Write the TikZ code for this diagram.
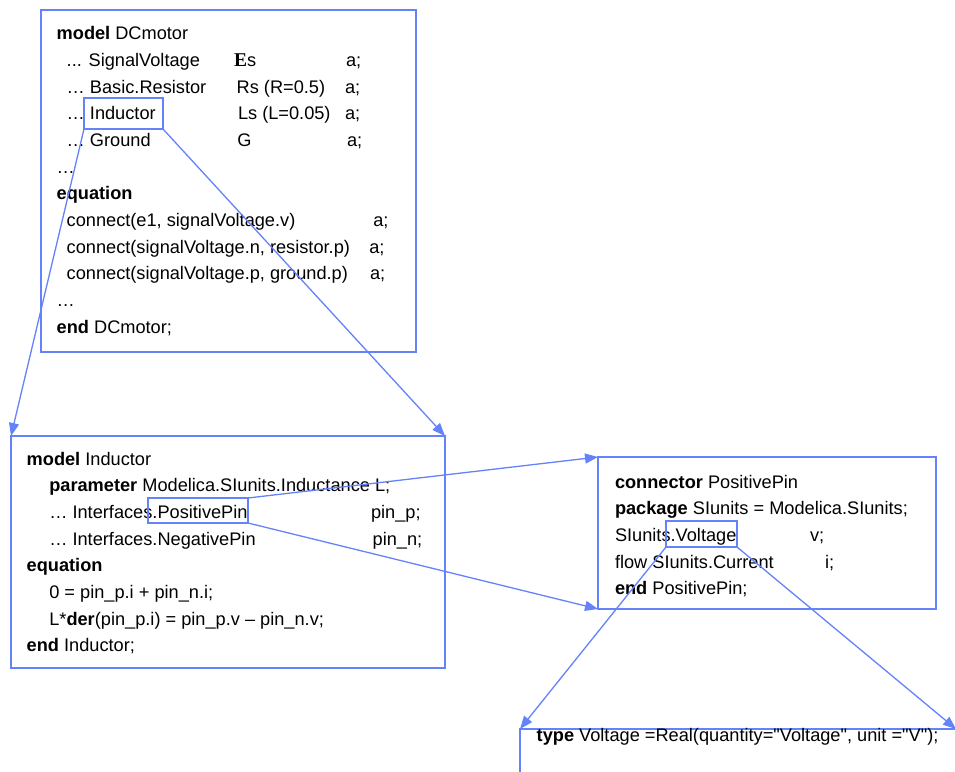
\documentclass[tikz,border=0pt]{standalone}
\usepackage{fontspec}
\setmainfont{Liberation Sans}[Ligatures=TeXOff]
\newfontfamily\serifE{Liberation Serif}
\usetikzlibrary{arrows.meta}
\definecolor{linkblue}{RGB}{100,130,250}

\begin{document}
\begin{tikzpicture}[x=1pt,y=-1pt,
  frame/.style={draw=linkblue, line width=1.5pt, inner sep=0pt, outer sep=0pt,
                anchor=north west},
  mark box/.style={draw=linkblue, line width=1.3pt, inner sep=0pt, outer sep=0pt,
                anchor=north west},
  code/.style={anchor=base west, inner sep=0pt, outer sep=0pt,
               font=\fontsize{18.2}{22}\selectfont},
  link/.style={draw=linkblue, line width=1.3pt,
               -{Triangle[length=13pt,width=10pt]}},
  ]
\useasboundingbox (0,0) rectangle (955,771);

% ---- frames -------------------------------------------------------
\node[frame, minimum width=375pt, minimum height=342pt] (dcmotor) at (41,10) {};
\node[frame, minimum width=434pt, minimum height=232pt] (inductor) at (11,436) {};
\node[frame, minimum width=338pt, minimum height=152pt] (pin) at (598,457) {};
\node[frame, minimum width=460pt, minimum height=80pt] (vtype) at (520,729) {};

% ---- model DCmotor ------------------------------------------------
\node[code] (d1)  at (56.7,39.3)  {\textbf{model} DCmotor};
\node[code] (d2)  at (66.7,66.3)  {... SignalVoltage};
\node[code] (d2b) at (234,66.3)   {{\serifE\bfseries\fontsize{19.5}{22}\selectfont E}s};
\node[code] (d2c) at (346,66.3)   {a;};
\node[code] (d3)  at (66.7,93)    {… Basic.Resistor};
\node[code] (d3b) at (236.7,93)   {Rs (R=0.5)};
\node[code] (d3c) at (345,93)     {a;};
\node[code] (d4)  at (66.7,119.7) {… Inductor};
\node[code] (d4b) at (238,119.7)  {Ls (L=0.05)};
\node[code] (d4c) at (345,119.7)  {a;};
\node[code] (d5)  at (66.7,146.3) {… Ground};
\node[code] (d5b) at (237.3,146.3){G};
\node[code] (d5c) at (347,146.3)  {a;};
\node[code] (d6)  at (56.7,173)   {…};
\node[code] (d7)  at (56.7,199.7) {\textbf{equation}};
\node[code] (d8)  at (66.7,226.3) {connect(e1, signalVoltage.v)};
\node[code] (d8c) at (373.3,226.3){a;};
\node[code] (d9)  at (66.7,253)   {connect(signalVoltage.n, resistor.p)};
\node[code] (d9c) at (369.3,253)  {a;};
\node[code] (d10) at (66.7,279.7) {connect(signalVoltage.p, ground.p)};
\node[code] (d10c) at (370,279.7) {a;};
\node[code] (d11) at (56.7,306.3) {…};
\node[code] (d12) at (56.7,333)   {\textbf{end} DCmotor;};

% ---- model Inductor -----------------------------------------------
\node[code] (i1)  at (26.7,465)   {\textbf{model} Inductor};
\node[code] (i2)  at (49.3,491.7) {\textbf{parameter} Modelica.SIunits.Inductance L;};
\node[code] (i3)  at (49.3,518.3) {… Interfaces.PositivePin};
\node[code] (i3b) at (371,518.3)  {pin\_p;};
\node[code] (i4)  at (49.3,545)   {… Interfaces.NegativePin};
\node[code] (i4b) at (372.7,545)  {pin\_n;};
\node[code] (i5)  at (26.7,571.7) {\textbf{equation}};
\node[code] (i6)  at (49.3,598.3) {0 = pin\_p.i + pin\_n.i;};
\node[code] (i7)  at (49.3,625)   {L*\textbf{der}(pin\_p.i) = pin\_p.v – pin\_n.v;};
\node[code] (i8)  at (26.7,651.7) {\textbf{end} Inductor;};

% ---- connector PositivePin ----------------------------------------
\node[code] (p1)  at (615,488.3)  {\textbf{connector} PositivePin};
\node[code] (p2)  at (615,514.7)  {\textbf{package} SIunits = Modelica.SIunits;};
\node[code] (p3)  at (615,541.3)  {SIunits.Voltage};
\node[code] (p3b) at (810,541.3)  {v;};
\node[code] (p4)  at (615,568)    {flow SIunits.Current};
\node[code] (p4b) at (825,568)    {i;};
\node[code] (p5)  at (615,594.7)  {\textbf{end} PositivePin;};

% ---- type Voltage -------------------------------------------------
\node[code] (t1)  at (536.7,741.7) {\textbf{type} Voltage =Real(quantity="Voltage", unit ="V");};

% ---- highlighted names ---------------------------------------------
\node[mark box, minimum width=79pt, minimum height=31pt] (hInd) at (84,98) {};
\node[mark box, minimum width=100pt, minimum height=25pt] (hPin) at (148,498) {};
\node[mark box, minimum width=71pt, minimum height=26pt] (hVolt) at (666,521) {};

% ---- zoom-in connectors --------------------------------------------
\coordinate (vtypeRight) at (956,729);
\draw[link] (hInd.south west) -- (inductor.north west);
\draw[link] (hInd.south east) -- (inductor.north east);
\draw[link] (hPin.north east) -- (pin.north west);
\draw[link] (hPin.south east) -- (pin.south west);
\draw[link] (hVolt.south west) -- (vtype.north west);
\draw[link] (hVolt.south east) -- (vtypeRight);
\end{tikzpicture}
\end{document}
